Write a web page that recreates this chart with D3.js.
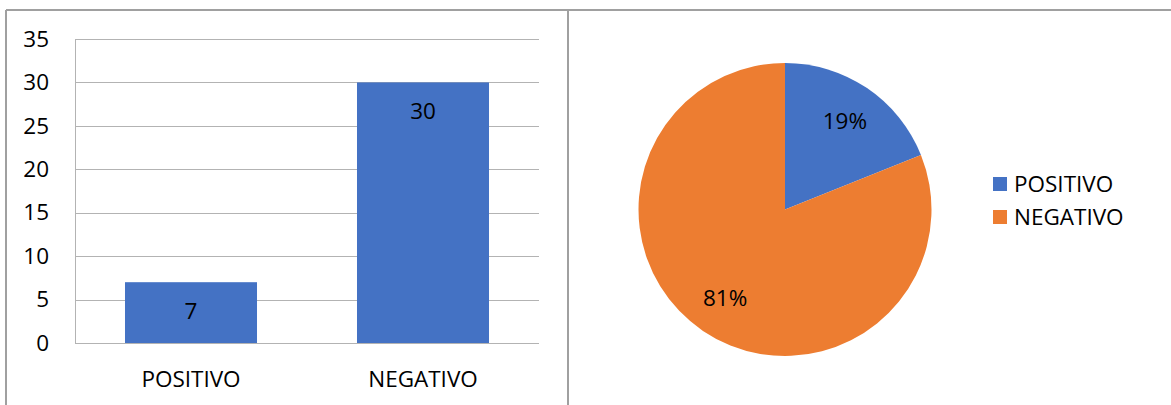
<!DOCTYPE html>
<html>
<head>
<meta charset="utf-8">
<script src="https://cdn.jsdelivr.net/npm/d3@7"></script>
<style>
  html, body { margin: 0; padding: 0; background: #fff; }
  svg { display: block; }
  text { font-family: "Open Sans", "Liberation Sans", sans-serif; fill: #000; }
</style>
</head>
<body>
<svg id="chart" width="1171" height="405"></svg>
<script>
// Survey result: positive vs negative responses
const categories = ["POSITIVO", "NEGATIVO"];
const counts = [7, 30];
const yTicks = [0, 5, 10, 15, 20, 25, 30, 35];
const colors = ["#4472C4", "#ED7D31"];

const svg = d3.select("#chart");
const FONT = 22.5;

// ---- panel frames ----
const frame = svg.append("g")
  .attr("fill", "none")
  .attr("stroke", "#a0a0a0")
  .attr("stroke-width", 2);
frame.append("line").attr("x1", 6).attr("x2", 1171).attr("y1", 10).attr("y2", 10);
frame.append("line").attr("x1", 6).attr("x2", 6).attr("y1", 10).attr("y2", 405);
frame.append("line").attr("x1", 568).attr("x2", 568).attr("y1", 10).attr("y2", 405);

// ---- bar chart ----
const plot = { left: 75, right: 539, top: 39, bottom: 343 };

const x = d3.scaleBand()
  .domain(categories)
  .range([plot.left, plot.right])
  .paddingInner(0.431)
  .paddingOuter(0.2155);

const y = d3.scaleLinear()
  .domain([0, 35])
  .range([plot.bottom, plot.top]);

// horizontal gridlines
svg.append("g")
  .selectAll("line")
  .data(yTicks)
  .join("line")
  .attr("x1", plot.left)
  .attr("x2", plot.right)
  .attr("y1", d => Math.round(y(d)) + 0.5)
  .attr("y2", d => Math.round(y(d)) + 0.5)
  .attr("stroke", "#b3b3b3")
  .attr("stroke-width", 1);

// value axis line
svg.append("line")
  .attr("x1", plot.left + 0.5).attr("x2", plot.left + 0.5)
  .attr("y1", y(35)).attr("y2", y(0))
  .attr("stroke", "#b3b3b3")
  .attr("stroke-width", 1);

// y tick labels
const yAxis = d3.axisLeft(y).tickValues(yTicks).tickSize(0).tickPadding(26);
const gy = svg.append("g")
  .attr("transform", `translate(${plot.left},0)`)
  .call(yAxis);
gy.select(".domain").remove();
gy.selectAll("text")
  .attr("font-size", FONT)
  .attr("font-family", "'Open Sans', 'Liberation Sans', sans-serif")
  .attr("fill", "#000");

// x category labels
const xAxis = d3.axisBottom(x).tickSize(0).tickPadding(0);
const gx = svg.append("g")
  .attr("transform", `translate(0,${plot.bottom})`)
  .call(xAxis);
gx.select(".domain").remove();
gx.selectAll("text")
  .attr("y", 36)
  .attr("dy", "0.35em")
  .attr("font-size", FONT)
  .attr("font-family", "'Open Sans', 'Liberation Sans', sans-serif")
  .attr("fill", "#000");

// bars
svg.append("g")
  .selectAll("rect")
  .data(categories)
  .join("rect")
  .attr("x", d => x(d))
  .attr("width", x.bandwidth())
  .attr("y", (d, i) => y(counts[i]))
  .attr("height", (d, i) => y(0) - y(counts[i]))
  .attr("fill", colors[0]);

// bar value labels
svg.append("g")
  .selectAll("text")
  .data(categories)
  .join("text")
  .attr("x", d => x(d) + x.bandwidth() / 2)
  .attr("y", (d, i) => y(counts[i]) + 29)
  .attr("dy", "0.35em")
  .attr("text-anchor", "middle")
  .attr("font-size", FONT)
  .text((d, i) => counts[i]);

// ---- pie chart ----
const cx = 785, cy = 209.5, r = 146.5;
const total = d3.sum(counts);
const pie = d3.pie().sort(null).value(d => d);
const arcs = pie(counts);
const arc = d3.arc().innerRadius(0).outerRadius(r);
const labelArc = d3.arc().innerRadius(r * 0.73).outerRadius(r * 0.73);

const gp = svg.append("g").attr("transform", `translate(${cx},${cy})`);
gp.selectAll("path")
  .data(arcs)
  .join("path")
  .attr("d", arc)
  .attr("fill", (d, i) => colors[i]);

gp.selectAll("text")
  .data(arcs)
  .join("text")
  .attr("transform", d => `translate(${labelArc.centroid(d)})`)
  .attr("dy", "0.35em")
  .attr("text-anchor", "middle")
  .attr("font-size", FONT)
  .text(d => Math.round(d.data / total * 100) + "%");

// legend
const legend = svg.append("g").attr("transform", "translate(993,184)");
const items = legend.selectAll("g")
  .data(categories)
  .join("g")
  .attr("transform", (d, i) => `translate(0,${i * 33})`);
items.append("rect")
  .attr("x", 0).attr("y", -7)
  .attr("width", 14).attr("height", 14)
  .attr("fill", (d, i) => colors[i]);
items.append("text")
  .attr("x", 21)
  .attr("dy", "0.35em")
  .attr("font-size", FONT)
  .text(d => d);
</script>
</body>
</html>
